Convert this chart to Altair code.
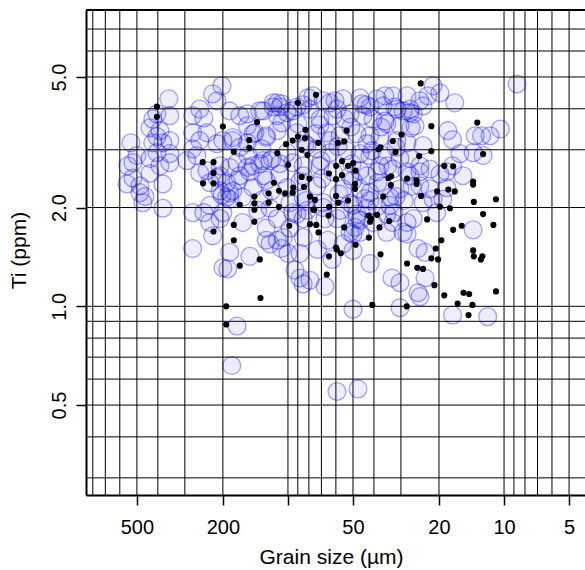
import altair as alt
import pandas as pd

# ---- black dots: grain size (µm) and Ti (ppm)
black_size = [404, 404, 248, 221, 221, 247, 221, 221, 200, 178, 167, 178, 178, 167, 151, 151, 143, 143, 143, 143,
              135, 139, 112, 116, 123, 123, 110, 110, 103, 98.6, 102, 95.1, 89.9, 89.9, 99.8, 94.5, 95.1, 83.0, 83.4, 86.4,
              81.2, 86.4, 79.5, 84.3, 79.1, 76.4, 79.1, 74.2, 24.3, 21.7, 13.3, 53.5, 72.4, 58.7, 54.9, 29.8, 32.7, 38.1, 37.3, 31.8,
              21.7, 24.7, 12.5, 56.2, 52.7, 49.9, 59.8, 48.7, 64.6, 56.2, 18.9, 17.2, 59.9, 34.3, 33.3, 28.1, 25.4, 25.4, 13.9, 13.9,
              33.4, 48.9, 48.9, 36.2, 24.2, 20.4, 18.1, 16.9, 59.9, 75.0, 58.5, 52.7, 64.5, 19.8, 17.8, 13.8, 10.9, 75.6, 64.9, 42.4,
              38.7, 41.3, 41.7, 12.5, 34.0, 22.7, 74.0, 72.2, 54.9, 37.7, 15.7, 17.2, 11.2, 42.2, 48.6, 59.9, 59.4, 56.9, 64.6, 19.5,
              20.7, 37.3, 13.9, 13.8, 12.6, 12.8, 21.7, 20.2, 28.1, 25.2, 23.7, 66.1, 21.0, 18.9, 15.4, 14.5, 10.9, 16.4, 14.0, 14.6,
              40.7, 28.2, 193, 193, 134]
black_ti = [4.06, 3.78, 2.75, 2.75, 2.55, 2.37, 2.37, 1.69, 3.53, 2.96, 2.04, 1.77, 1.59, 1.33, 3.21, 3.04, 2.16, 2.06, 1.97, 1.81,
            1.39, 3.64, 2.93, 2.38, 2.21, 2.07, 2.25, 2.01, 2.21, 1.76, 3.12, 3.20, 4.17, 3.29, 2.70, 2.30, 2.22, 3.45, 3.25, 3.00,
            2.89, 2.48, 2.45, 2.31, 2.16, 1.97, 1.78, 4.41, 4.78, 3.54, 3.63, 3.43, 3.15, 3.15, 3.18, 3.34, 3.19, 3.01, 3.05, 2.95,
            2.97, 2.87, 2.91, 2.77, 2.68, 2.73, 2.68, 2.59, 2.54, 2.51, 2.68, 2.67, 2.44, 2.46, 2.49, 2.45, 2.42, 2.36, 2.40, 2.35,
            2.34, 2.36, 2.28, 2.16, 2.17, 2.24, 2.27, 2.24, 2.17, 2.11, 2.07, 2.10, 2.01, 2.01, 1.99, 2.08, 2.12, 1.97, 1.89, 1.89,
            1.90, 1.85, 1.81, 1.91, 1.82, 1.84, 1.77, 1.68, 1.74, 1.74, 1.76, 1.71, 1.77, 1.62, 1.54, 1.51, 1.49, 1.45, 1.42, 1.59,
            1.50, 1.44, 1.48, 1.42, 1.42, 1.39, 1.40, 1.39, 1.35, 1.31, 1.30, 1.25, 1.16, 1.08, 1.10, 1.09, 1.11, 1.02, 1.01, 0.94,
            1.01, 1.00, 1.00, 0.88, 1.06]

# ---- blue circles, by region of the plot
blue_size_coarse = [356, 352, 422, 435, 391, 379, 533, 422, 404, 500, 522, 435, 352, 391, 556, 484, 484, 379, 469, 379,
                    276, 245, 230, 276, 256, 276, 237, 276, 256, 264, 230, 230, 551, 435, 352, 352, 404, 404, 522, 459, 276]
blue_ti_coarse = [4.29, 3.81, 3.72, 3.50, 3.43, 3.15, 3.15, 3.15, 2.94, 2.88, 2.74, 2.82, 2.74, 2.68, 2.36, 2.33, 2.22, 2.36, 2.07, 1.99,
                  1.93, 1.93, 1.80, 3.81, 3.99, 3.38, 3.38, 3.02, 2.55, 2.88, 2.03, 2.38, 2.68, 2.54, 2.92, 3.20, 3.29, 3.86, 2.46, 2.16, 1.50]

blue_size_mid = [245, 223, 202, 213, 186, 154, 135, 112, 107, 117, 95, 256, 213, 180, 167, 145, 126, 294, 237, 213,
                 186, 154, 135, 121, 206, 192, 180, 145, 126, 109, 101, 202, 186, 186, 150, 200, 190, 223, 126, 167,
                 154, 130, 117, 109, 112, 101, 80.7, 142, 126, 112, 200, 180, 154, 172, 145, 130, 118, 109, 95, 206,
                 206, 192, 167, 150, 130, 186, 162, 130, 121, 97.9, 112, 95, 206, 200, 162, 126, 97.9, 85, 85, 85,
                 81.6, 91, 90, 79.1, 101, 85, 121, 112, 107, 100, 92.8, 88, 85, 172, 182, 105,
                 132, 153, 107, 119, 138, 170]
blue_ti_mid = [3.75, 4.44, 4.70, 4.23, 3.94, 3.86, 3.94, 4.17, 4.14, 4.05, 3.94, 3.20, 3.13, 3.27, 3.05, 3.36, 3.27, 2.78, 2.59, 2.47,
               2.65, 2.65, 2.72, 2.78, 2.25, 2.15, 2.25, 2.30, 2.42, 2.53, 2.30, 2.18, 2.12, 1.46, 1.42, 1.31, 1.30, 1.64, 1.59, 3.81,
               3.55, 3.94, 4.17, 4.05, 3.81, 3.89, 4.32, 3.38, 3.31, 3.43, 3.20, 3.20, 3.15, 2.74, 2.68, 2.78, 2.82, 2.72, 2.74, 2.68,
               2.50, 2.38, 2.50, 2.57, 2.50, 2.22, 2.15, 2.12, 1.99, 2.07, 1.85, 1.93, 1.85, 1.93, 1.80, 1.73, 1.73, 1.85, 2.68, 2.50,
               3.09, 3.38, 3.60, 3.99, 2.94, 2.15, 1.55, 1.59, 1.50, 1.45, 1.29, 1.22, 1.17, 0.87, 0.66, 1.62,
               3.02, 2.88, 3.62, 2.25, 1.96, 2.42]

blue_size_fine = [76.6, 63.9, 55.6, 46.4, 38.7, 32.7, 28.1, 36.3, 31.3, 27.2, 71.1, 61.9, 51.6, 45.0, 40.4, 34.9, 30.3,
                  66.0, 57.4, 48.0, 41.7, 37.5, 31.3, 28.1, 73.4, 63.9, 53.4, 46.4, 41.7, 36.3, 30.3,
                  71.1, 61.9, 51.6, 43.1, 38.7, 32.7, 28.1, 73.4, 55.6, 46.4, 41.7, 36.3, 30.3,
                  68.8, 50.0, 43.1, 33.7, 48.0, 40.4, 59.3, 32.7, 28.1, 51.6, 46.4, 34.9, 29.3,
                  60.6, 68.8, 91, 45.5, 41.7, 29.3, 26.3, 23.7, 35.6,
                  41.7, 34.9, 48.0, 51.6, 68.8, 81.6, 91, 49, 50, 65.3, 85, 88,
                  62.5, 41.7, 33.0, 30.3, 25.0, 23.2, 73, 50, 55.6, 67.4, 79.1,
                  30.3, 50, 59.3, 47.4, 28.1, 24.5, 25, 17.3, 11.9,
                  85.2, 71.1, 59.3, 51.1, 43.5, 37.1, 32.0, 26.9, 83.4, 70.3, 58.7, 50.5, 43.1, 37.5, 31.6, 27.2,
                  88.0, 69.6, 58.1, 50.0, 44.0, 38.3, 31.6, 26.6, 82.5, 67.4, 57.4, 46.4, 38.7, 32.3, 29.0, 35.6,
                  63.9, 40.8, 54.5, 46.4, 34.5, 74.2]
blue_ti_fine = [4.38, 4.17, 4.29, 4.32, 4.29, 4.38, 4.38, 4.08, 3.99, 3.89, 3.72, 3.81, 3.86, 3.81, 3.72, 3.60, 3.55,
                3.38, 3.31, 3.36, 3.31, 3.27, 3.20, 3.15, 3.02, 2.94, 2.98, 2.92, 2.88, 2.88, 2.82,
                2.68, 2.57, 2.50, 2.50, 2.57, 2.62, 2.57, 2.33, 2.28, 2.28, 2.22, 2.33, 2.28,
                2.07, 2.03, 1.99, 2.03, 1.85, 1.80, 1.85, 1.80, 1.80, 1.68, 1.68, 1.68, 1.68,
                4.23, 4.23, 4.05, 4.14, 4.05, 3.94, 3.86, 4.08, 4.38,
                2.10, 1.91, 1.91, 2.06, 2.00, 1.96, 1.91, 1.74, 1.66, 1.59, 1.62, 1.45,
                1.39, 1.35, 1.22, 1.18, 1.50, 1.46, 1.49, 1.48, 1.55, 1.15, 1.20,
                0.99, 0.98, 0.55, 0.56, 1.66, 1.07, 1.10, 0.94, 0.93,
                4.11, 3.57, 3.99, 3.52, 4.11, 3.52, 4.05, 3.50, 3.13, 2.78, 3.07, 2.72, 3.13, 2.68, 3.05, 2.82,
                2.40, 2.45, 2.20, 2.42, 2.13, 2.38, 2.16, 2.32, 2.10, 1.85, 1.96, 1.83, 2.01, 1.93, 2.10, 3.67,
                3.20, 2.98, 3.72, 2.59, 2.68, 3.36]

blue_size_small = [21.3, 19.8, 22.5, 24.5, 16.9, 27.2, 25.8, 18.2, 17.3, 13.6, 12.7, 11.6, 10.4, 12.5, 13.9, 16.0, 17.3,
                   15.5, 18.4, 19.8, 23.7, 24.5, 24.5, 22.0, 24.5, 22.0, 21.3, 19.2, 26.3, 13.9, 8.7, 20.5, 23.7, 27.2,
                   18.4, 33.7, 23.2]
blue_ti_small = [4.70, 4.47, 4.38, 4.23, 4.17, 3.99, 3.55, 3.43, 3.22, 3.31, 3.31, 3.31, 3.47, 2.88, 2.94, 2.92, 2.68,
                 2.50, 2.57, 2.53, 3.09, 2.68, 2.57, 2.62, 2.33, 2.28, 2.12, 2.12, 1.85, 1.71, 4.76, 1.93, 2.07, 2.50,
                 2.30, 2.15, 1.22]

# ---- grid and tick values
grid_x = [5, 6, 7, 8, 9, 10, 20, 30, 40, 50, 60, 70, 80, 90, 100, 200, 300, 400, 500, 600, 700, 800]
grid_y = [0.3, 0.4, 0.5, 0.6, 0.7, 0.8, 0.9, 1, 2, 3, 4, 5, 6, 7]
x_ticks = [500, 200, 100, 50, 20, 10, 5]
y_ticks = [0.5, 1, 2, 5]

blue_size = blue_size_coarse + blue_size_mid + blue_size_fine + blue_size_small
blue_ti = blue_ti_coarse + blue_ti_mid + blue_ti_fine + blue_ti_small
assert len(blue_size) == len(blue_ti)
assert len(black_size) == len(black_ti)

W, H = 499, 485
FONT = "Liberation Sans"

xscale = alt.Scale(type="log", domain=[4.22, 860], reverse=True, nice=False)
yscale = alt.Scale(type="log", domain=[0.266, 8.0], nice=False)

blue_df = pd.DataFrame({"size": blue_size, "ti": blue_ti})
black_df = pd.DataFrame({"size": black_size, "ti": black_ti})
gx_df = pd.DataFrame({"size": grid_x})
gy_df = pd.DataFrame({"ti": grid_y})

x_axis = alt.Axis(values=x_ticks, format="d", labelExpr="datum.value == 100 ? '' : datum.label",
                  grid=False, tickSize=10, tickWidth=1.5, tickColor="black",
                  domainColor="black", domainWidth=2, labelFont=FONT, labelFontSize=20,
                  labelColor="black", labelPadding=12, labelFlush=False, labelOverlap=False,
                  title="Grain size (µm)", titleFont=FONT, titleFontSize=21, titleFontWeight="normal",
                  titleColor="black", titleX=245, titleY=68, titleBaseline="alphabetic", titleAlign="center")
y_axis = alt.Axis(values=y_ticks, format=".1f", grid=False, tickSize=10, tickWidth=1.5, tickColor="black",
                  domainColor="black", domainWidth=2, labelFont=FONT, labelFontSize=20, labelColor="black",
                  labelAngle=270, labelAlign="center", labelBaseline="alphabetic", labelPadding=11,
                  labelFlush=False, labelOverlap=False,
                  title="Ti (ppm)", titleFont=FONT, titleFontSize=21, titleFontWeight="normal", titleColor="black",
                  titleAngle=270, titleX=-61, titleY=240, titleBaseline="alphabetic", titleAlign="center")

X = alt.X("size:Q", scale=xscale, axis=x_axis)
Y = alt.Y("ti:Q", scale=yscale, axis=y_axis)

circles = alt.Chart(blue_df).mark_circle(
    size=320, fill="#0000FF", fillOpacity=0.07, stroke="#0000FF", strokeOpacity=0.36,
    strokeWidth=1.3, opacity=1
).encode(x=X, y=Y)

vgrid = alt.Chart(gx_df).mark_rule(color="black", strokeWidth=1).encode(x=X)
hgrid = alt.Chart(gy_df).mark_rule(color="black", strokeWidth=1).encode(y=Y)

dots = alt.Chart(black_df).mark_circle(size=38, color="black", opacity=1).encode(x=X, y=Y)

top_border = alt.Chart(pd.DataFrame({"z": [0]})).mark_rule(color="black", strokeWidth=2).encode(
    x=alt.value(0), x2=alt.value(W), y=alt.value(0)
)

chart = alt.layer(circles, vgrid, hgrid, dots, top_border).properties(
    width=W, height=H,
    autosize=alt.AutoSizeParams(type="none"),
    padding={"left": 86, "top": 10, "right": 0, "bottom": 75},
    background="white",
).configure_view(stroke=None)

chart.save("out.html", embed_options={"renderer": "svg", "actions": False})
